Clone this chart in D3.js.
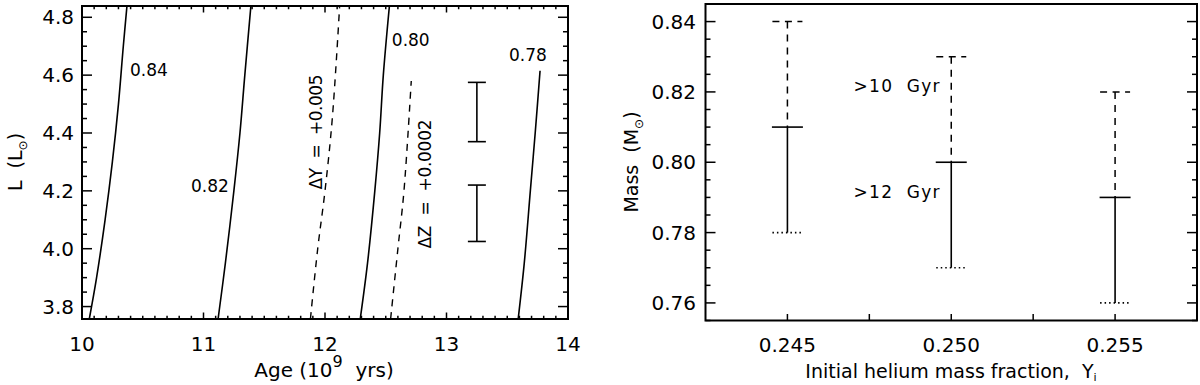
<!DOCTYPE html>
<html>
<head>
<meta charset="utf-8">
<script src="https://cdn.jsdelivr.net/npm/d3@7"></script>
<style>
  html, body { margin: 0; padding: 0; background: #fff; }
  svg { display: block; }
  text { font-family: "DejaVu Sans", "Liberation Sans", sans-serif; fill: #000; }
</style>
</head>
<body>
<script>
// ---------------- DATA ----------------
// Left panel: mass tracks (age in Gyr, luminosity in Lsun)
const trackLabels = ["0.84", "0.82", "0.80", "0.78"];
const track084 = [[10.06,3.757],[10.12,3.9],[10.19,4.1],[10.25,4.3],[10.30,4.5],[10.34,4.7],[10.37,4.839]];
const track082 = [[11.12,3.757],[11.18,3.95],[11.25,4.2],[11.30,4.4],[11.34,4.6],[11.39,4.839]];
const track080 = [[12.29,3.757],[12.35,3.95],[12.41,4.2],[12.45,4.4],[12.48,4.6],[12.53,4.839]];
const track078 = [[13.59,3.757],[13.64,3.95],[13.69,4.2],[13.73,4.4],[13.77,4.615]];
const trackDY  = [[11.88,3.757],[11.94,4.0],[12.00,4.2],[12.06,4.45],[12.12,4.835]];
const trackDZ  = [[12.54,3.757],[12.60,4.0],[12.65,4.2],[12.71,4.58]];
const trackLabelPos = [[10.395,4.597],[10.897,4.196],[12.55,4.70],[13.514,4.648]];
const shiftLabels = ["ΔY  =  +0.005", "ΔZ  =  +0.0002"];
const lumErrBars = [[13.25, 4.37, 4.575], [13.25, 4.025, 4.22]];
const leftXTicks = [10, 11, 12, 13, 14];
const leftYTicks = [3.8, 4.0, 4.2, 4.4, 4.6, 4.8];

// Right panel: mass ranges vs initial helium
const heliumY   = [0.245, 0.250, 0.255];
const massTop   = [0.84, 0.83, 0.82];   // >10 Gyr upper limit
const massMid   = [0.81, 0.80, 0.79];   // >12 Gyr upper limit
const massLow   = [0.78, 0.77, 0.76];   // lower limit
const ageLabels = [">10  Gyr", ">12  Gyr"];
const rightXTicks = [0.245, 0.2475, 0.250, 0.2525, 0.255];
const rightXTickLabels = ["0.245", "", "0.250", "", "0.255"];
const rightYTicks = [0.76, 0.78, 0.80, 0.82, 0.84];

// ---------------- DRAW ----------------
const W = 1200, H = 385;
const svg = d3.select("body").append("svg").attr("width", W).attr("height", H);

function frameTicks(g, x, y, opts) {
  const [x0, x1] = x.range(), [y0, y1] = y.range(); // y0 bottom, y1 top
  const xt = (v, len) => {
    g.append("line").attr("x1", x(v)).attr("x2", x(v)).attr("y1", y0).attr("y2", y0 - len);
    if (opts.topTicks) g.append("line").attr("x1", x(v)).attr("x2", x(v)).attr("y1", y1).attr("y2", y1 + len);
  };
  opts.xMajor.forEach(v => xt(v, opts.xLen));
  (opts.xMinor || []).forEach(v => xt(v, opts.xLen / 2));
  const yt = (v, len) => {
    g.append("line").attr("y1", y(v)).attr("y2", y(v)).attr("x1", x0).attr("x2", x0 + len);
    g.append("line").attr("y1", y(v)).attr("y2", y(v)).attr("x1", x1).attr("x2", x1 - len);
  };
  opts.yMajor.forEach(v => yt(v, opts.yLen));
  (opts.yMinor || []).forEach(v => yt(v, opts.yLen / 2));
  g.selectAll("line").attr("stroke", "#000").attr("stroke-width", 1.5);
  g.append("rect").attr("x", x0).attr("y", y1).attr("width", x1 - x0).attr("height", y0 - y1)
    .attr("fill", "none").attr("stroke", "#000").attr("stroke-width", 2);
}

// ---- Left panel ----
const xL = d3.scaleLinear().domain([10, 14]).range([82, 568]);
const yL = d3.scaleLinear().domain([3.757, 4.839]).range([319, 6]);
const gL = svg.append("g");

svg.append("defs").append("clipPath").attr("id", "clipL")
  .append("rect").attr("x", 82).attr("y", 6).attr("width", 486).attr("height", 313);

const line = d3.line().x(d => xL(d[0])).y(d => yL(d[1])).curve(d3.curveCatmullRom);
const plotL = gL.append("g").attr("clip-path", "url(#clipL)");
[track084, track082, track080, track078].forEach(t => {
  plotL.append("path").attr("d", line(t)).attr("fill", "none").attr("stroke", "#000").attr("stroke-width", 1.6);
});
[trackDY, trackDZ].forEach(t => {
  plotL.append("path").attr("d", line(t)).attr("fill", "none").attr("stroke", "#000")
    .attr("stroke-width", 1.4).attr("stroke-dasharray", "7,6");
});
trackLabels.forEach((s, i) => {
  gL.append("text").attr("x", xL(trackLabelPos[i][0])).attr("y", yL(trackLabelPos[i][1]))
    .attr("font-size", 17).text(s);
});
const shiftPos = [[322, 132, 115], [431, 184, 129]];
shiftLabels.forEach((s, i) => {
  gL.append("text").attr("transform", `translate(${shiftPos[i][0]},${shiftPos[i][1]}) rotate(-90)`)
    .attr("text-anchor", "middle").attr("font-size", 17)
    .attr("textLength", shiftPos[i][2]).attr("lengthAdjust", "spacing")
    .style("white-space", "pre").text(s);
});
lumErrBars.forEach(([a, lo, hi]) => {
  const cx = xL(a);
  const g = gL.append("g").attr("stroke", "#000").attr("stroke-width", 1.6);
  g.append("line").attr("x1", cx).attr("x2", cx).attr("y1", yL(lo)).attr("y2", yL(hi));
  g.append("line").attr("x1", cx - 9).attr("x2", cx + 9).attr("y1", yL(lo)).attr("y2", yL(lo));
  g.append("line").attr("x1", cx - 9).attr("x2", cx + 9).attr("y1", yL(hi)).attr("y2", yL(hi));
});

frameTicks(gL.append("g"), xL, yL, {
  topTicks: true,
  xMajor: leftXTicks, xMinor: d3.range(10, 14.0001, 0.1).map(v => +v.toFixed(2)).filter(v => !leftXTicks.includes(v)),
  xLen: 6.5,
  yMajor: leftYTicks, yMinor: d3.range(3.8, 4.85, 0.05).map(v => +v.toFixed(2)).filter(v => !leftYTicks.some(t => Math.abs(t - v) < 1e-6)),
  yLen: 10
});
leftXTicks.forEach(v => gL.append("text").attr("x", xL(v)).attr("y", 351).attr("text-anchor", "middle").attr("font-size", 20).text(v));
leftYTicks.forEach(v => gL.append("text").attr("x", 74).attr("y", yL(v) + 7).attr("text-anchor", "end").attr("font-size", 20).text(v.toFixed(1)));

const tL = gL.append("text").attr("x", 324).attr("y", 377).attr("text-anchor", "middle").attr("font-size", 20)
  .style("white-space", "pre");
tL.append("tspan").text("Age (10");
tL.append("tspan").attr("dy", -10).attr("font-size", 16).text("9");
tL.append("tspan").attr("dy", 10).text("  yrs)");

const yTitleL = gL.append("text").attr("transform", "translate(22,162) rotate(-90)").attr("text-anchor", "middle")
  .attr("font-size", 19).style("white-space", "pre");
yTitleL.append("tspan").text("L  (L");
yTitleL.append("tspan").attr("dy", 5).attr("font-size", 12).text("⊙");
yTitleL.append("tspan").attr("dy", -5).text(")");

// ---- Right panel ----
const xR = d3.scaleLinear().domain([0.2425, 0.2575]).range([705.5, 1197]);
const yR = d3.scaleLinear().domain([0.755, 0.845]).range([320.5, 4]);
const gR = svg.append("g");
heliumY.forEach((h, i) => {
  const cx = xR(h);
  const g = gR.append("g").attr("stroke", "#000").attr("fill", "none");
  g.append("line").attr("x1", cx).attr("x2", cx).attr("y1", yR(massTop[i])).attr("y2", yR(massMid[i]))
    .attr("stroke-width", 1.5).attr("stroke-dasharray", "7,6");
  g.append("line").attr("x1", cx - 15).attr("x2", cx + 15).attr("y1", yR(massTop[i])).attr("y2", yR(massTop[i]))
    .attr("stroke-width", 1.5).attr("stroke-dasharray", "7,5.5");
  g.append("line").attr("x1", cx).attr("x2", cx).attr("y1", yR(massMid[i])).attr("y2", yR(massLow[i]))
    .attr("stroke-width", 1.6);
  g.append("line").attr("x1", cx - 15.5).attr("x2", cx + 15.5).attr("y1", yR(massMid[i])).attr("y2", yR(massMid[i]))
    .attr("stroke-width", 1.6);
  g.append("line").attr("x1", cx - 15).attr("x2", cx + 15).attr("y1", yR(massLow[i])).attr("y2", yR(massLow[i]))
    .attr("stroke-width", 1.6).attr("stroke-dasharray", "1.5,3");
});
const ageLabelPos = [[853.5, 92], [853.5, 198]];
ageLabels.forEach((s, i) => {
  gR.append("text").attr("x", ageLabelPos[i][0]).attr("y", ageLabelPos[i][1]).attr("font-size", 17)
    .attr("textLength", 86).attr("lengthAdjust", "spacing").style("white-space", "pre").text(s);
});
frameTicks(gR.append("g"), xR, yR, {
  topTicks: false,
  xMajor: rightXTicks, xLen: 6.5,
  yMajor: rightYTicks, yMinor: d3.range(0.755, 0.8451, 0.005).map(v => +v.toFixed(3)).filter(v => !rightYTicks.some(t => Math.abs(t - v) < 1e-6)),
  yLen: 10
});
rightXTicks.forEach((v, i) => gR.append("text").attr("x", xR(v)).attr("y", 352).attr("text-anchor", "middle").attr("font-size", 20).text(rightXTickLabels[i]));
rightYTicks.forEach(v => gR.append("text").attr("x", 696).attr("y", yR(v) + 7).attr("text-anchor", "end").attr("font-size", 20).text(v.toFixed(2)));

const tR = gR.append("text").attr("x", 951).attr("y", 378).attr("text-anchor", "middle").attr("font-size", 19)
  .style("white-space", "pre");
tR.append("tspan").text("Initial helium mass fraction,  Y");
tR.append("tspan").attr("dy", 3).attr("font-size", 11).text("i");

const yTitleR = gR.append("text").attr("transform", "translate(638,162) rotate(-90)").attr("text-anchor", "middle")
  .attr("font-size", 19).style("white-space", "pre");
yTitleR.append("tspan").text("Mass  (M");
yTitleR.append("tspan").attr("dy", 5).attr("font-size", 12).text("⊙");
yTitleR.append("tspan").attr("dy", -5).text(")");
</script>
</body>
</html>
